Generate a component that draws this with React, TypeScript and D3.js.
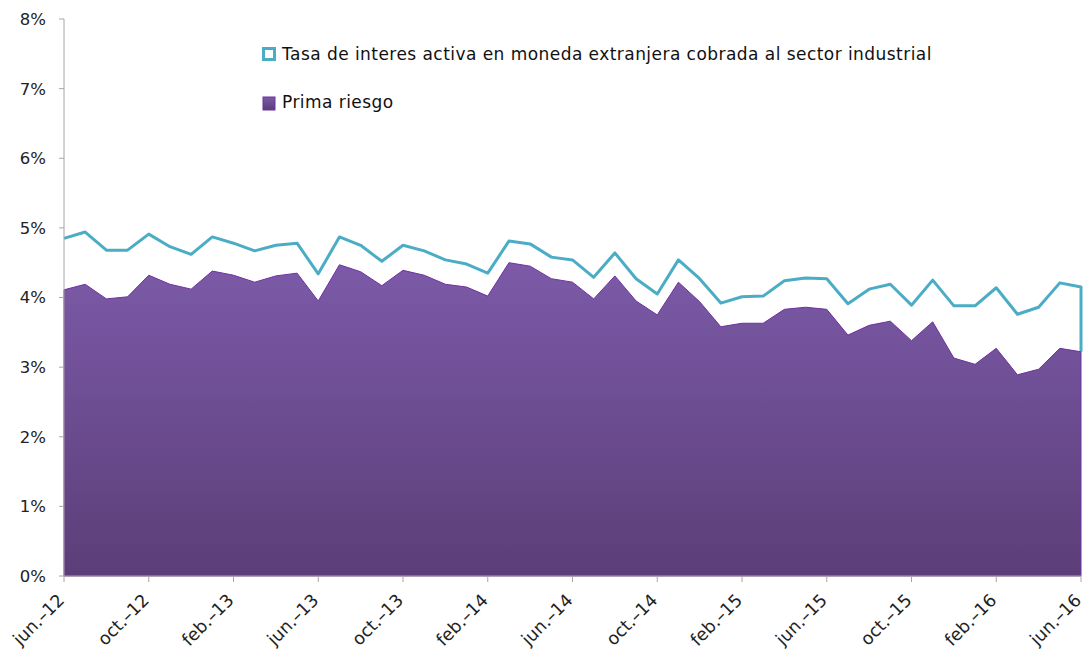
import { useEffect, useRef } from "react";
import * as d3 from "d3";

// monthly, jun-12 .. jun-16
const months = d3.timeMonth.range(new Date(2012, 5, 1), new Date(2016, 6, 1));

const tasa = [
  4.85, 4.94, 4.68, 4.68, 4.91, 4.73, 4.62, 4.87, 4.78, 4.67, 4.75, 4.78,
  4.34, 4.87, 4.75, 4.52, 4.75, 4.67, 4.54, 4.48, 4.35, 4.81, 4.77, 4.58,
  4.54, 4.29, 4.64, 4.27, 4.05, 4.54, 4.27, 3.92, 4.01, 4.02, 4.24, 4.28,
  4.27, 3.91, 4.12, 4.19, 3.89, 4.25, 3.88, 3.88, 4.14, 3.76, 3.86, 4.21,
  4.15,
];

const prima = [
  4.11, 4.19, 3.98, 4.01, 4.32, 4.19, 4.12, 4.38, 4.32, 4.22, 4.31, 4.35,
  3.95, 4.47, 4.37, 4.17, 4.39, 4.32, 4.19, 4.15, 4.02, 4.5, 4.45, 4.27,
  4.22, 3.98, 4.31, 3.95, 3.75, 4.22, 3.94, 3.58, 3.63, 3.63, 3.83, 3.86,
  3.83, 3.46, 3.6, 3.66, 3.38, 3.65, 3.13, 3.04, 3.27, 2.89, 2.97, 3.27,
  3.22,
];

const monthNames = ["ene.", "feb.", "mar.", "abr.", "may.", "jun.", "jul.", "ago.", "sep.", "oct.", "nov.", "dic."];
const yTicks = [0, 1, 2, 3, 4, 5, 6, 7, 8];
const legendLabels = [
  "Tasa de interes activa en moneda extranjera cobrada al sector industrial",
  "Prima riesgo",
];

const W = 1087;
const H = 656;
const FONT = "'DejaVu Sans', sans-serif";

export default function App() {
  const ref = useRef<SVGSVGElement | null>(null);

  useEffect(() => {
    document.body.style.margin = "0";
    const svg = d3.select(ref.current!);
    svg.selectAll("*").remove();

    const x = d3.scaleLinear().domain([0, months.length - 1]).range([64, 1081]);
    const y = d3.scaleLinear().domain([0, 8]).range([576, 19]);

    const defs = svg.append("defs");
    const grad = defs
      .append("linearGradient")
      .attr("id", "primaFill")
      .attr("x1", 0)
      .attr("y1", 0)
      .attr("x2", 0)
      .attr("y2", 1);
    grad.append("stop").attr("offset", "0%").attr("stop-color", "#7c5aa8");
    grad.append("stop").attr("offset", "100%").attr("stop-color", "#5b3e78");

    // tasa line, closing down to the prima value at the last point
    const line = d3
      .line<number>()
      .x((_, i) => x(i))
      .y((d) => y(d));
    const last = tasa.length - 1;
    svg
      .append("path")
      .attr("d", line(tasa)! + `L${x(last)},${y(prima[last])}`)
      .attr("fill", "none")
      .attr("stroke", "#4bacc6")
      .attr("stroke-width", 3)
      .attr("stroke-linejoin", "round");

    const area = d3
      .area<number>()
      .x((_, i) => x(i))
      .y0(y(0))
      .y1((d) => y(d));
    svg
      .append("path")
      .attr("d", area(prima)!)
      .attr("fill", "url(#primaFill)")
      .attr("stroke", "#7030a0")
      .attr("stroke-width", 1);

    // y axis
    const yAxis = svg.append("g").attr("transform", `translate(${x(0)},0)`);
    yAxis
      .append("line")
      .attr("y1", y(8))
      .attr("y2", y(0))
      .attr("stroke", "#a6a6a6");
    yTicks.forEach((t) => {
      yAxis
        .append("line")
        .attr("x1", -5)
        .attr("x2", 0)
        .attr("y1", y(t))
        .attr("y2", y(t))
        .attr("stroke", "#a6a6a6");
      yAxis
        .append("text")
        .attr("x", -18)
        .attr("y", y(t))
        .attr("dy", "0.36em")
        .attr("text-anchor", "end")
        .style("font", `16.5px ${FONT}`)
        .style("fill", "#222")
        .text(`${t}%`);
    });

    // x axis
    const xAxis = svg.append("g").attr("transform", `translate(0,${y(0)})`);
    xAxis
      .append("line")
      .attr("x1", x(0))
      .attr("x2", x(last))
      .attr("stroke", "#a6a6a6");
    months.forEach((m, i) => {
      if (i % 4 !== 0) return;
      xAxis
        .append("line")
        .attr("x1", x(i))
        .attr("x2", x(i))
        .attr("y1", 0)
        .attr("y2", 6)
        .attr("stroke", "#a6a6a6");
      const label = `${monthNames[m.getMonth()]}–${String(m.getFullYear()).slice(2)}`;
      xAxis
        .append("text")
        .attr("transform", `translate(${x(i) - 3},${21}) rotate(-45)`)
        .attr("text-anchor", "end")
        .attr("dy", "0.35em")
        .style("font", `17.5px ${FONT}`)
        .style("fill", "#222")
        .text(label);
    });

    // legend
    const lg = svg.append("g");
    lg.append("rect")
      .attr("x", 263.5)
      .attr("y", 48.5)
      .attr("width", 11)
      .attr("height", 11)
      .attr("fill", "#fff")
      .attr("stroke", "#4bacc6")
      .attr("stroke-width", 3);
    lg.append("text")
      .attr("x", 282)
      .attr("y", 60)
      .style("font", `17px ${FONT}`)
      .style("letter-spacing", "0.45px")
      .style("fill", "#111")
      .text(legendLabels[0]);
    lg.append("rect")
      .attr("x", 263)
      .attr("y", 97)
      .attr("width", 12)
      .attr("height", 13)
      .attr("fill", "url(#primaFill)")
      .attr("stroke", "#7030a0")
      .attr("stroke-width", 1);
    lg.append("text")
      .attr("x", 282)
      .attr("y", 108)
      .style("font", `17px ${FONT}`)
      .style("letter-spacing", "0.45px")
      .style("fill", "#111")
      .text(legendLabels[1]);
  }, []);

  return <svg ref={ref} width={W} height={H} style={{ display: "block", background: "#fff" }} />;
}
